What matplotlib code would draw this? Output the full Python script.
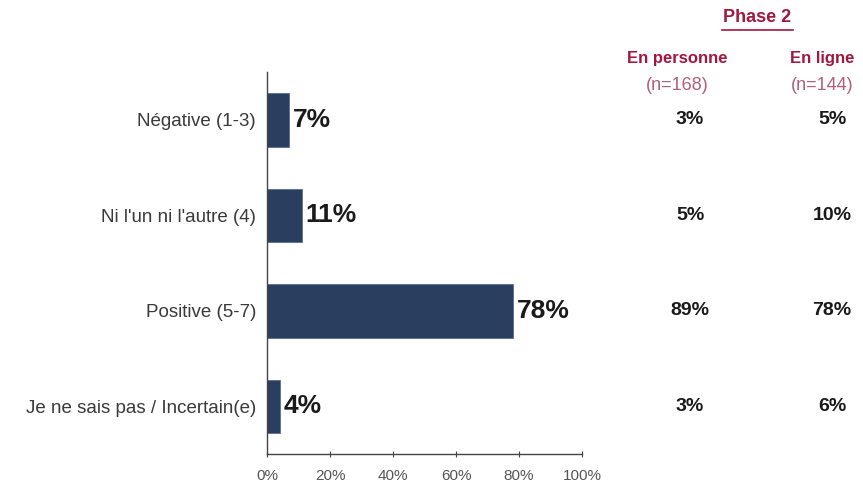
import matplotlib.pyplot as plt
from matplotlib.lines import Line2D
import matplotlib.transforms as mtransforms

plt.rcParams['font.family'] = ['Liberation Sans', 'DejaVu Sans']

# data
categories = ['Négative (1-3)', "Ni l'un ni l'autre (4)", 'Positive (5-7)', 'Je ne sais pas / Incertain(e)']
total = [7, 11, 78, 4]
en_personne = [3, 5, 89, 3]
en_ligne = [5, 10, 78, 6]
xticks = [0, 20, 40, 60, 80, 100]

BAR = '#2a3f5f'
RED = '#a3173f'
PINK = '#b0607a'

fig = plt.figure(figsize=(8.63, 4.86), dpi=100)
ax = fig.add_axes([0.3094, 0.0658, 0.365, 0.786])

y = list(range(len(categories)))
ax.barh(y, total, height=0.56, color=BAR, edgecolor='#5a6f8f', linewidth=0.6)
for yi, v in zip(y, total):
    ax.annotate(f'{v}%', (v, yi), xytext=(3, 0), textcoords='offset points',
                ha='left', va='center', fontsize=19, fontweight='bold', color='#1a1a1a')

ax.set_xlim(0, 100)
ax.set_ylim(len(categories) - 0.5, -0.5)
ax.set_yticks(y)
ax.set_yticklabels(categories, fontsize=13.5, color='#3a3a3a')
ax.tick_params(axis='y', length=0, pad=8)
ax.set_xticks(xticks)
ax.set_xticklabels([f'{t}%' for t in xticks], fontsize=11, color='#555555')
ax.tick_params(axis='x', direction='inout', length=5, color='#444444', pad=8)
for s in ['top', 'right']:
    ax.spines[s].set_visible(False)
for s in ['left', 'bottom']:
    ax.spines[s].set_color('#444444')
    ax.spines[s].set_linewidth(1.0)

# right-hand columns
fig.text(757 / 863, 1 - 18 / 486, 'Phase 2', ha='center', va='center', fontsize=13,
         fontweight='bold', color=RED)
fig.add_artist(Line2D([722 / 863, 793 / 863], [1 - 30 / 486, 1 - 30 / 486],
                      color=RED, linewidth=1.2))
cols = [(677, 'En personne', '(n=168)', en_personne, 690),
        (822, 'En ligne', '(n=144)', en_ligne, 832)]
trans = mtransforms.blended_transform_factory(fig.transFigure, ax.transData)
for cx, head, n, vals, vx in cols:
    fig.text(cx / 863, 1 - 58 / 486, head, ha='center', va='center', fontsize=12,
             fontweight='bold', color=RED)
    fig.text(cx / 863, 1 - 86 / 486, n, ha='center', va='center', fontsize=13,
             color=PINK)
    for yi, v in zip(y, vals):
        ax.text(vx / 863, yi, f'{v}%', transform=trans, ha='center', va='center',
                fontsize=14, fontweight='bold', color='#1a1a1a')

fig.savefig('out.png', dpi=100)
